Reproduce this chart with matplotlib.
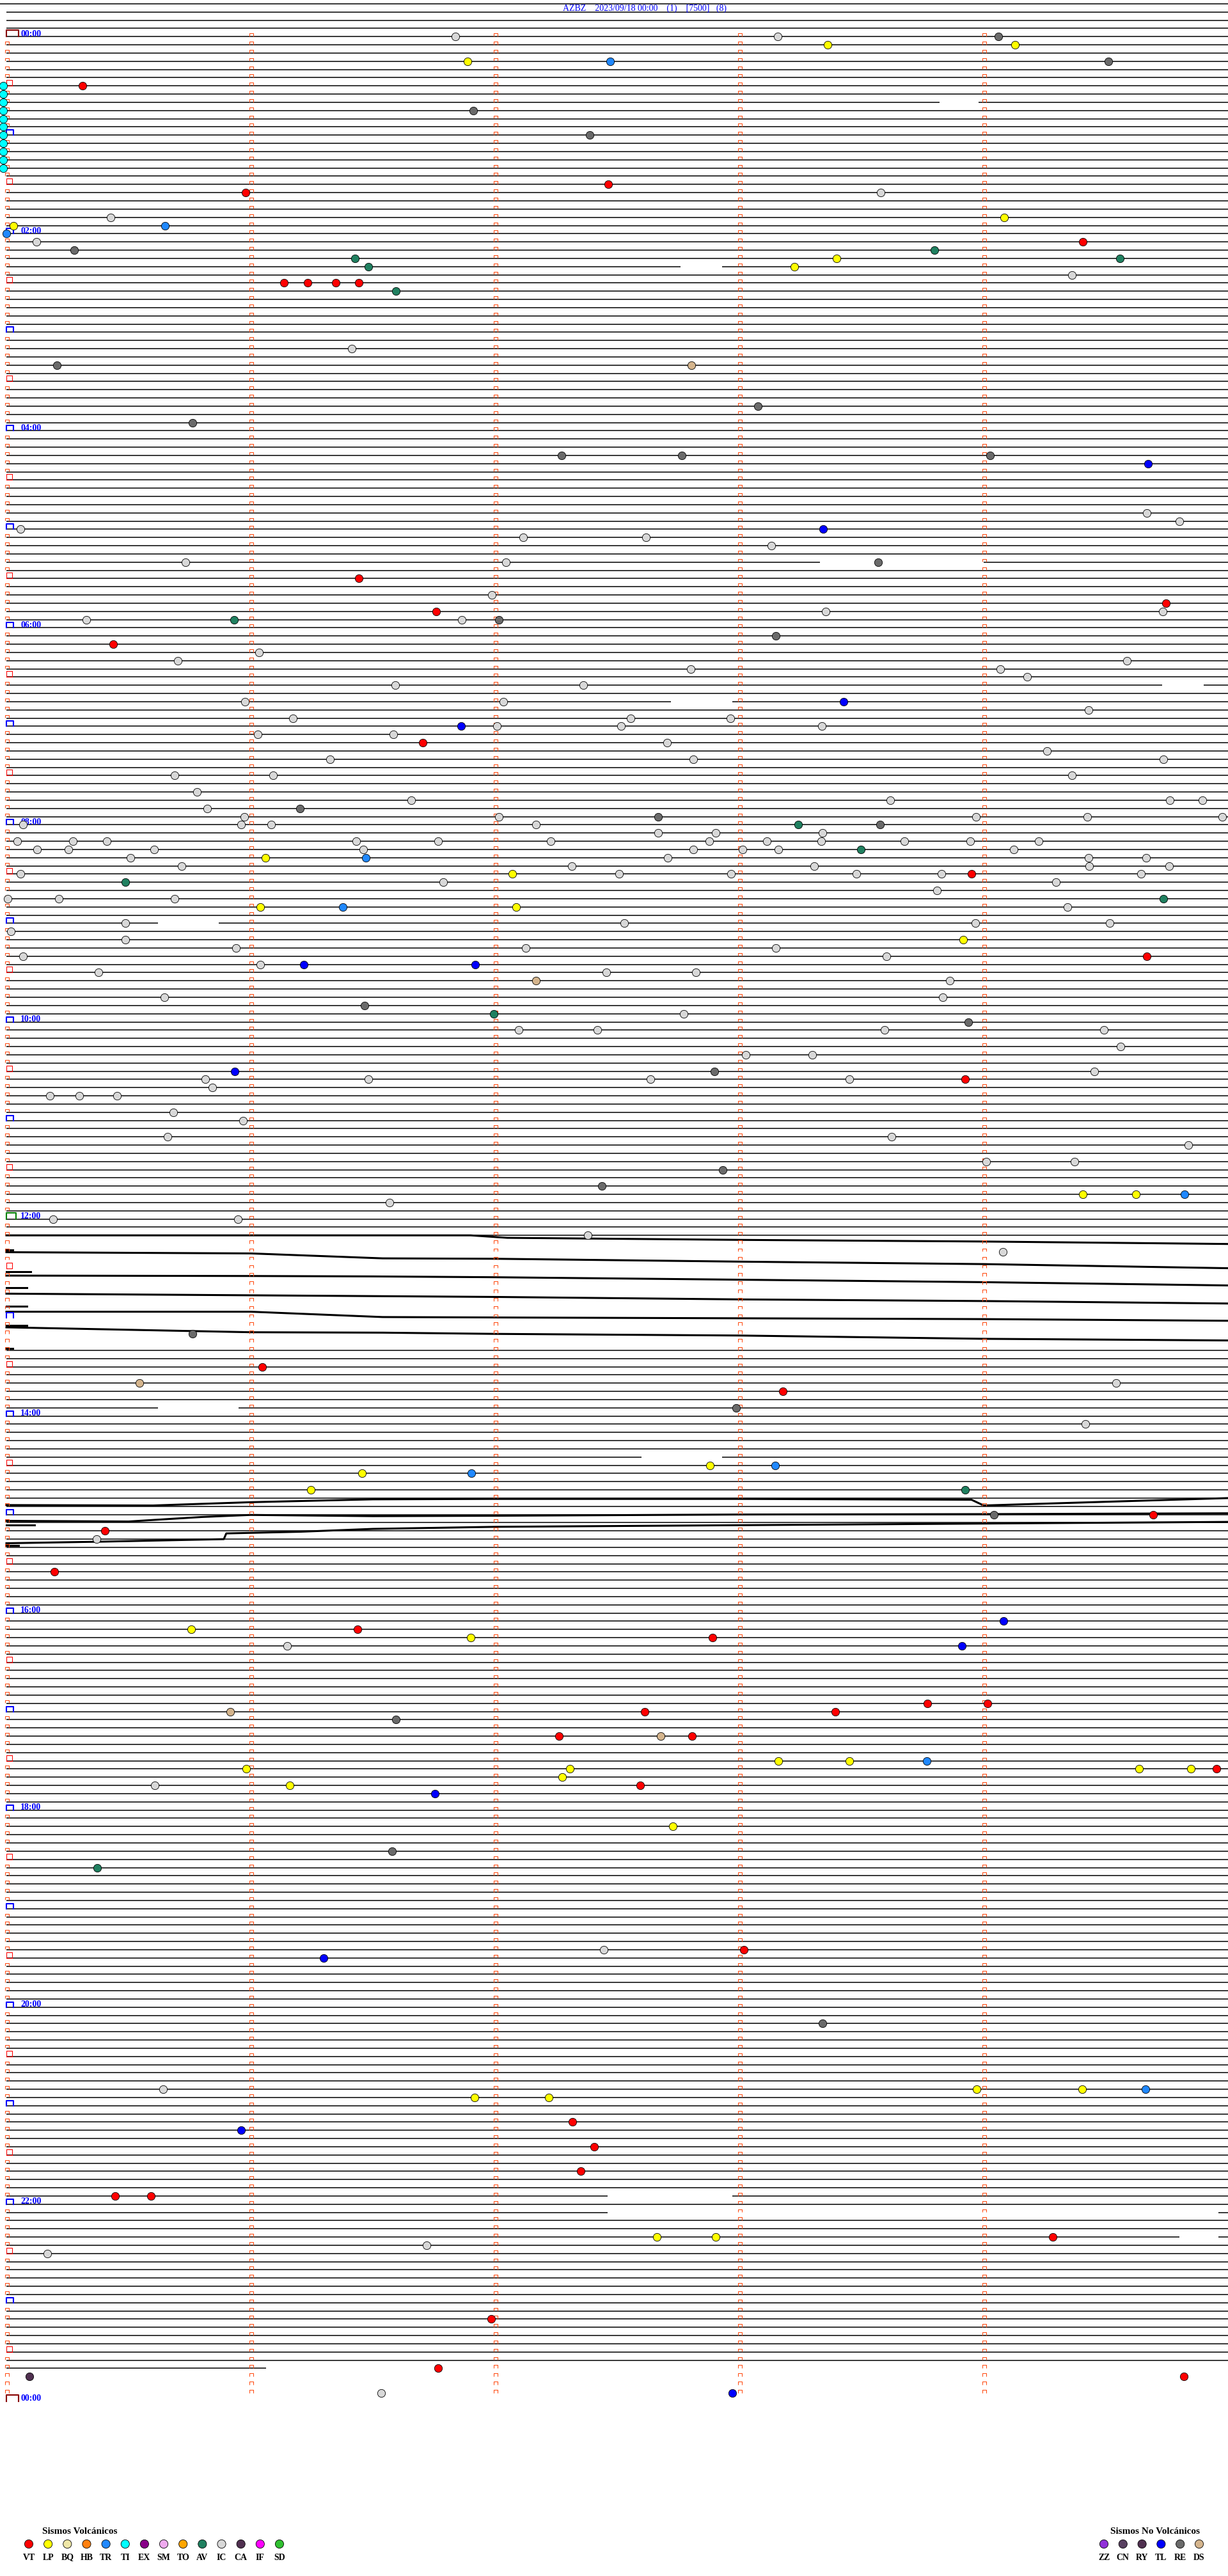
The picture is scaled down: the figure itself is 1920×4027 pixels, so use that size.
import matplotlib
matplotlib.use("Agg")
import matplotlib.pyplot as plt
from matplotlib.collections import LineCollection

plt.rcParams['font.family'] = ['Liberation Serif', 'DejaVu Serif']

# ---- data -------------------------------------------------------------
TITLE = "AZBZ    2023/09/18 00:00    (1)    [7500]   (8)"
N_LINES = 288              # 5 minute lines in a day
LAST_LINE = 284            # last line with signal
LAST_LINE_END = 1.063      # minutes of signal on the last line
BLANK_ROWS = list(range(147, 160))   # rows replaced by the drifting traces
GAPS = [(8, 3.82, 3.98), (28, 2.76, 2.93), (64, 3.33, 4.00), (79, 4.73, 4.90),
        (81, 2.72, 2.97), (108, 0.62, 0.87), (167, 0.62, 0.95), (173, 2.60, 2.93),
        (263, 2.46, 2.97), (265, 2.46, 4.96), (268, 4.80, 4.96)]

# drifting noisy traces: (minute knots, row position)
TRACES = [
    ([0, 1.9, 2.05, 3.0, 4.0, 5.0], [146.0, 146.0, 146.3, 146.55, 146.75, 147.05]),
    ([0, 1.0, 1.54, 2.0, 3.0, 4.0, 5.0], [148.05, 148.2, 148.8, 148.85, 149.2, 149.5, 150.0]),
    ([0, 1.0, 1.5, 2.0, 3.0, 4.0, 5.0], [150.9, 150.95, 151.0, 151.1, 151.4, 151.7, 152.1]),
    ([0, 1.0, 1.5, 2.0, 3.0, 4.0, 5.0], [153.1, 153.3, 153.4, 153.5, 153.8, 154.0, 154.3]),
    ([0, 1.0, 1.54, 2.0, 3.0, 4.0, 5.0], [155.3, 155.3, 155.95, 156.0, 156.1, 156.2, 156.4]),
    ([0, 0.5, 1.0, 1.54, 2.0, 3.0, 4.0, 5.0], [157.2, 157.5, 157.8, 157.85, 158.0, 158.2, 158.6, 158.8]),
    ([0, 0.6, 1.0, 1.5, 2.0, 3.0, 3.95, 4.0, 5.0], [178.85, 178.9, 178.5, 178.15, 178.1, 178.1, 178.2, 178.9, 178.0]),
    ([0, 0.5, 0.8, 1.0, 1.5, 2.0, 3.0, 4.0, 5.0], [180.77, 180.85, 180.3, 180.05, 180.2, 180.15, 180.0, 179.95, 179.85]),
    ([0, 0.4, 0.89, 0.9, 1.2, 1.5, 2.0, 3.0, 4.0, 5.0], [183.5, 183.3, 183.0, 182.3, 182.1, 181.75, 181.5, 181.3, 181.1, 180.9]),
]
STUBS = [(147.8, 0.026), (150.4, 0.10), (152.4, 0.085), (154.6, 0.085),
         (157.0, 0.085), (159.8, 0.026), (181.3, 0.115), (183.8, 0.05)]

# events: (line, minute within line)
TI = [(r, -0.012) for r in range(6, 17)]
VT = [(6, 0.312), (18, 2.464), (19, 0.979), (25, 4.407), (30, 1.137), (30, 1.233), (30, 1.349),
      (30, 1.443), (66, 1.443), (69, 4.745), (70, 1.759), (74, 0.438), (86, 1.704), (102, 3.950),
      (112, 4.668), (127, 3.924), (162, 1.047), (165, 3.179), (180, 4.693), (182, 0.402),
      (187, 0.196), (194, 1.436), (195, 2.889), (203, 3.769), (203, 4.017), (204, 2.612),
      (204, 3.392), (207, 2.261), (207, 2.806), (211, 4.954), (213, 2.593), (233, 3.018),
      (254, 2.316), (257, 2.406), (260, 2.351), (263, 0.444), (263, 0.592), (268, 4.284),
      (278, 1.984), (284, 1.768), (285, 4.819)]
LP = [(1, 3.360), (1, 4.127), (3, 1.888), (22, 4.085), (23, 0.029), (27, 3.398), (28, 3.225),
      (100, 1.060), (102, 2.071), (106, 1.040), (106, 2.087), (110, 3.917), (141, 4.407),
      (141, 4.623), (174, 2.880), (175, 1.456), (177, 1.246), (194, 0.757), (195, 1.900),
      (210, 3.160), (210, 3.450), (211, 0.982), (211, 2.306), (211, 4.636), (211, 4.848),
      (212, 2.274), (213, 1.159), (218, 2.728), (250, 3.972), (250, 4.404), (251, 1.916),
      (251, 2.219), (268, 2.661), (268, 2.902)]
TR = [(3, 2.471), (23, 0.650), (24, 0.0), (100, 1.472), (106, 1.378), (141, 4.823),
      (174, 3.147), (175, 1.904), (210, 3.766), (250, 4.661)]
AV = [(26, 3.798), (27, 1.427), (27, 4.558), (28, 1.482), (31, 1.594), (71, 0.931),
      (96, 3.241), (99, 3.498), (103, 0.486), (105, 4.735), (119, 1.994), (177, 3.923),
      (223, 0.373)]
RE = [(0, 4.059), (3, 4.510), (9, 1.910), (12, 2.387), (26, 0.277), (40, 0.206), (45, 3.076),
      (47, 0.763), (51, 2.271), (51, 2.764), (51, 4.027), (64, 3.569), (71, 2.016), (73, 3.150),
      (94, 1.201), (95, 2.667), (96, 3.576), (118, 1.465), (120, 3.936), (126, 2.899),
      (138, 2.931), (140, 2.438), (158, 0.763), (167, 2.986), (180, 4.043), (205, 1.594),
      (221, 1.578), (242, 3.340)]
TL = [(52, 4.674), (60, 3.344), (81, 3.427), (84, 1.862), (113, 1.217), (113, 1.920),
      (126, 0.934), (193, 4.081), (196, 3.911), (214, 1.755), (234, 1.298), (255, 0.960),
      (287, 2.970)]
DS = [(40, 2.803), (115, 2.168), (164, 0.544), (204, 0.915), (207, 2.677)]
CA = [(285, 0.093)]
IC = [(0, 1.839), (0, 3.157), (19, 3.579), (22, 0.428), (25, 0.122), (29, 4.362), (38, 1.414),
      (58, 4.668), (59, 4.800), (60, 0.058), (61, 2.116), (61, 2.619), (62, 3.131), (64, 0.734),
      (64, 2.045), (68, 1.987), (70, 3.353), (70, 4.732), (71, 0.328), (71, 1.865), (75, 1.034),
      (76, 0.702), (76, 4.587), (77, 2.802), (77, 4.069), (78, 4.178), (79, 1.591), (79, 2.361),
      (81, 0.976), (81, 2.033), (82, 4.429), (83, 1.172), (83, 2.554), (83, 2.964), (84, 2.007),
      (84, 2.516), (84, 3.337), (85, 1.030), (85, 1.585), (86, 2.703), (87, 4.259), (88, 1.324),
      (88, 2.812), (88, 4.735), (90, 0.689), (90, 1.092), (90, 4.362), (92, 0.779), (93, 1.656),
      (93, 3.618), (93, 4.761), (93, 4.896), (94, 0.821), (95, 0.973), (95, 2.016), (95, 3.969),
      (95, 4.423), (95, 4.977), (96, 0.067), (96, 0.960), (96, 1.085), (96, 2.168), (97, 2.667),
      (97, 2.902), (97, 3.340), (98, 0.045), (98, 0.273), (98, 0.412), (98, 1.433), (98, 1.768),
      (98, 2.229), (98, 2.877), (98, 3.112), (98, 3.334), (98, 3.676), (98, 3.946), (98, 4.226),
      (99, 0.125), (99, 0.254), (99, 0.605), (99, 1.462), (99, 2.812), (99, 3.012), (99, 3.160),
      (99, 4.123), (100, 0.509), (100, 2.706), (100, 4.429), (100, 4.665), (101, 0.718),
      (101, 2.313), (101, 3.305), (101, 4.433), (101, 4.758), (102, 0.058), (102, 2.509),
      (102, 2.967), (102, 3.479), (102, 3.827), (102, 4.645), (103, 1.788), (103, 4.297),
      (104, 3.808), (105, 0.006), (105, 0.215), (105, 0.689), (106, 4.342), (108, 0.486),
      (108, 2.529), (108, 3.966), (108, 4.516), (109, 0.019), (110, 0.486), (111, 0.940),
      (111, 2.126), (111, 3.150), (112, 0.067), (112, 3.601), (113, 1.040), (114, 0.377),
      (114, 2.455), (114, 2.822), (115, 3.862), (117, 0.647), (117, 3.833), (119, 2.773),
      (121, 2.097), (121, 2.419), (121, 3.595), (121, 4.491), (123, 4.561), (124, 3.025),
      (124, 3.299), (126, 4.452), (127, 0.815), (127, 1.482), (127, 2.635), (127, 3.450),
      (128, 0.844), (129, 0.177), (129, 0.299), (129, 0.454), (131, 0.683), (132, 0.969),
      (134, 0.660), (134, 3.624), (135, 4.838), (137, 4.010), (137, 4.371), (142, 1.569),
      (144, 0.190), (144, 0.947), (146, 2.380), (148, 4.078), (164, 4.542), (169, 4.417),
      (183, 0.370), (196, 1.150), (213, 0.608), (233, 2.445), (250, 0.641), (269, 1.720),
      (270, 0.167), (287, 1.533)]

VOLC_CODES = ['VT', 'LP', 'BQ', 'HB', 'TR', 'TI', 'EX', 'SM', 'TO', 'AV', 'IC', 'CA', 'IF', 'SD']
VOLC_COLORS = ['#ff0000', '#ffff00', '#eee6a6', '#ff8010', '#2088ff', '#00ffff', '#880088',
               '#eeaaee', '#ffa500', '#208060', '#d8d8d8', '#503050', '#ff00ff', '#30c030']
NOVOLC_CODES = ['ZZ', 'CN', 'RY', 'TL', 'RE', 'DS']
NOVOLC_COLORS = ['#9030d8', '#584060', '#503050', '#0000ff', '#6a6a6a', '#d4b48c']

# ---- geometry ---------------------------------------------------------
W, H = 1920, 4027
X0_PX, MIN_PX = 10, 382.0
ROW0_PX, ROW_PX = 57.3, 12.835

fig = plt.figure(figsize=(W / 100, H / 100), dpi=100)
ax = fig.add_axes([0, 0, 1, 1])
ax.set_xlim(-X0_PX / MIN_PX, (W - X0_PX) / MIN_PX)
ax.set_ylim((H - ROW0_PX) / ROW_PX, -ROW0_PX / ROW_PX)
ax.axis('off')

px_x = 1 / MIN_PX
px_y = 1 / ROW_PX

# base lines
segs = []
for r in range(-4, LAST_LINE + 1):
    if r in BLANK_ROWS:
        continue
    start = -X0_PX / MIN_PX if r == -4 else 0.0
    end = LAST_LINE_END if r == LAST_LINE else 5.0
    cuts = sorted((a, b) for (gr, a, b) in GAPS if gr == r)
    x = start
    for a, b in cuts:
        segs.append([(x, r), (a, r)])
        x = b
    segs.append([(x, r), (end, r)])
ax.add_collection(LineCollection(segs, colors='black', linewidths=1.1, zorder=2))

# drifting traces
for xs, ys in TRACES:
    ax.plot(xs, ys, color='black', lw=2.2, zorder=2, solid_joinstyle='round')
for y, x1 in STUBS:
    ax.plot([0, x1], [y, y], color='black', lw=2.2, zorder=2)

# minute ticks and hour marks
ticks = []
for r in range(N_LINES):
    for m in range(5):
        if m == 0 and r % 6 == 0:
            continue
        x = m - 0.004
        ticks.append([(x, r - 0.03), (x, r - 5 * px_y), (x + 6 * px_x, r - 5 * px_y), (x + 6 * px_x, r - 0.03)])
ax.add_collection(LineCollection(ticks, colors='#ff4a10', linewidths=0.75, zorder=3))

for r in range(0, N_LINES + 1, 6):
    if r % 12 == 6:
        col, w, h, lw = '#ff0000', 9, 9, 0.8
        pts = [(0, r), (0, r - h * px_y), (w * px_x, r - h * px_y), (w * px_x, r), (0, r)]
    else:
        if r % N_LINES == 0:
            col, w, h = '#880000', 19, 10
        elif r == 144:
            col, w, h = '#008000', 15, 10
        else:
            col, w, h = '#0000ff', 11, 8
        lw = 1.5
        pts = [(0, r), (0, r - h * px_y), (w * px_x, r - h * px_y), (w * px_x, r)]
    ax.plot([p[0] for p in pts], [p[1] for p in pts], color=col, lw=lw, zorder=4)
    if r % 24 == 0:
        ax.text(22 * px_x, r - 0.05, "%02d:00" % ((r // 12) % 24), color='#0000ff',
                fontsize=10, fontweight='bold', va='baseline', ha='left', zorder=5)

# events
event_sets = [(VT, 'VT'), (LP, 'LP'), (TR, 'TR'), (TI, 'TI'), (AV, 'AV'), (IC, 'IC'),
              (CA, 'CA'), (RE, 'RE'), (TL, 'TL'), (DS, 'DS')]
color_of = dict(zip(VOLC_CODES, VOLC_COLORS))
color_of.update({k: v for k, v in zip(NOVOLC_CODES, NOVOLC_COLORS) if k not in color_of})
for data, code in event_sets:
    rows = [d[0] for d in data]
    mins = [d[1] for d in data]
    ax.scatter(mins, rows, s=78, c=color_of[code], edgecolors='black', linewidths=0.6, zorder=6)

# title
fig.text(1008 / W, 1 - 13.5 / H, TITLE, color='#0000ff', fontsize=10, ha='center', va='center')

# legend
lax = fig.add_axes([0, 0, 1, 1])
lax.set_xlim(0, W)
lax.set_ylim(H, 0)
lax.axis('off')
lax.patch.set_alpha(0)

lax.text(125, 3957, "Sismos Volcánicos", fontsize=11, fontweight='bold', ha='center', va='center')
vx = [45 + 30.15 * i for i in range(len(VOLC_CODES))]
lax.scatter(vx, [3977] * len(vx), s=90, c=VOLC_COLORS, edgecolors='black', linewidths=0.6)
for x, code in zip(vx, VOLC_CODES):
    lax.text(x, 3998, code, fontsize=10, fontweight='bold', ha='center', va='center')

lax.text(1806, 3957, "Sismos No Volcánicos", fontsize=11, fontweight='bold', ha='center', va='center')
nx = [1726 + 29.8 * i for i in range(len(NOVOLC_CODES))]
lax.scatter(nx, [3977] * len(nx), s=90, c=NOVOLC_COLORS, edgecolors='black', linewidths=0.6)
for x, code in zip(nx, NOVOLC_CODES):
    lax.text(x, 3998, code, fontsize=10, fontweight='bold', ha='center', va='center')

fig.savefig("out.png", dpi=100)
